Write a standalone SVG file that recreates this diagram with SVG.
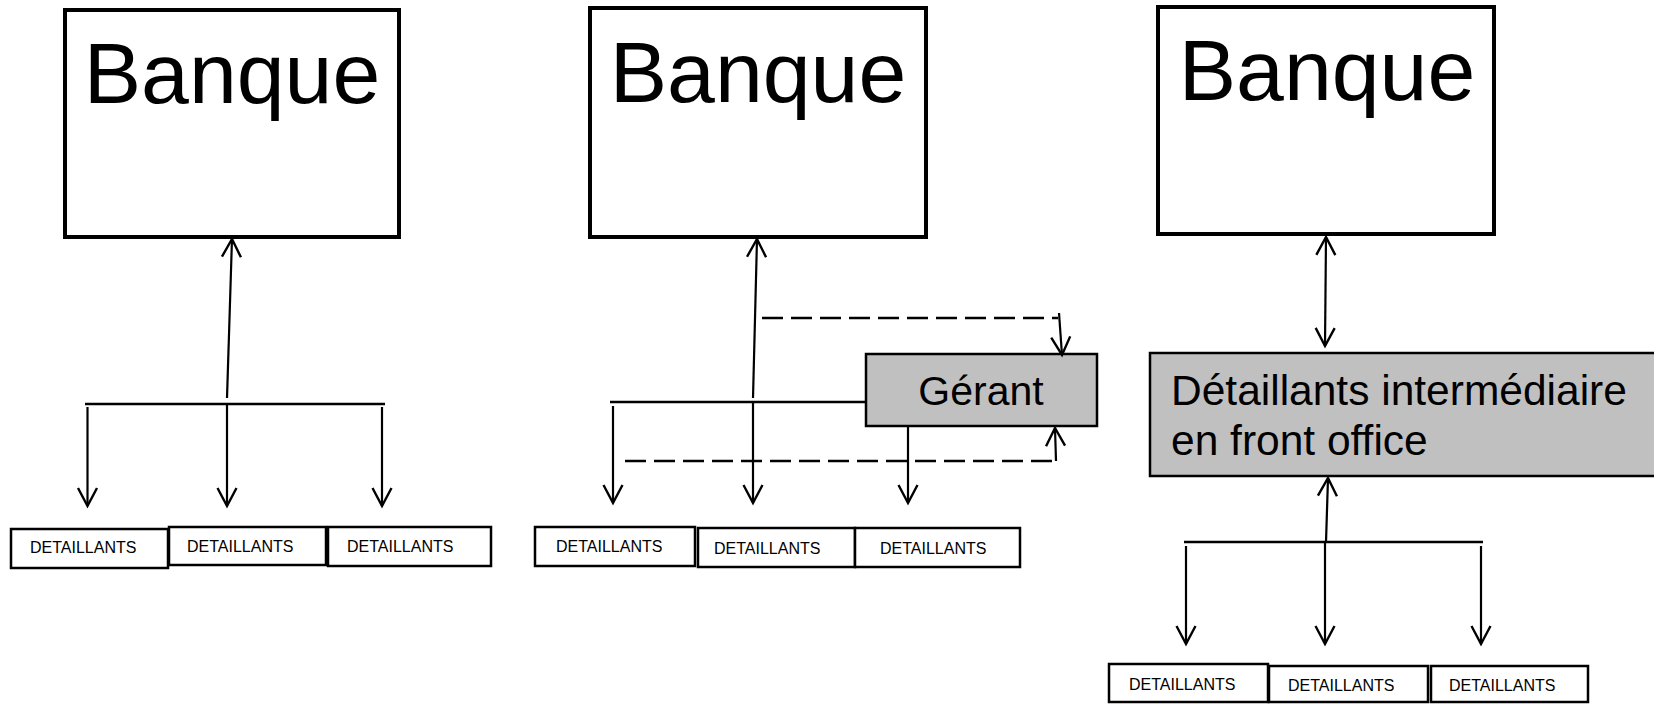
<svg xmlns="http://www.w3.org/2000/svg" width="1654" height="704" viewBox="0 0 1654 704">
<style>
.bank{fill:#fff;stroke:#000;stroke-width:4}
.det{fill:#fff;stroke:#000;stroke-width:2.5}
.grey{fill:#c0c0c0;stroke:#000;stroke-width:2.5}
.t{font-family:"Liberation Sans",Arial,sans-serif;fill:#000}
.big{font-size:86px;text-anchor:middle}
.mid{font-size:42.5px}
.small{font-size:16px}
.c{fill:none;stroke:#000;stroke-width:2.2}
.bar{fill:none;stroke:#000;stroke-width:2.5}
.dash{fill:none;stroke:#000;stroke-width:2.5;stroke-dasharray:21 8}
</style>
<defs>
<marker id="arr" markerUnits="userSpaceOnUse" markerWidth="26" markerHeight="26" refX="21" refY="13" orient="auto-start-reverse" viewBox="0 0 26 26">
<path d="M3,3.5 L21,13 L3,22.5" fill="none" stroke="#000" stroke-width="2.4"/>
</marker>
</defs>
<rect width="1654" height="704" fill="#fff"/>

<!-- Panel 1 -->
<g id="bank1"><rect class="bank" x="65" y="10" width="334" height="227"/><text class="t big" x="232" y="103">Banque</text></g>
<g id="p1det1"><rect class="det" x="11" y="529" width="157" height="39"/><text class="t small" x="30" y="553">DETAILLANTS</text></g>
<g id="p1det2"><rect class="det" x="169" y="527" width="157" height="38"/><text class="t small" x="187" y="552">DETAILLANTS</text></g>
<g id="p1det3"><rect class="det" x="328" y="527" width="163" height="39"/><text class="t small" x="347" y="552">DETAILLANTS</text></g>

<!-- Panel 2 -->
<g id="bank2"><rect class="bank" x="590" y="8" width="336" height="229"/><text class="t big" x="758" y="102">Banque</text></g>
<g id="gerant"><rect class="grey" x="866" y="354" width="231" height="72"/><text class="t" font-size="41" text-anchor="middle" x="981" y="405">Gérant</text></g>
<g id="p2det1"><rect class="det" x="535" y="527" width="160" height="39"/><text class="t small" x="556" y="552">DETAILLANTS</text></g>
<g id="p2det2"><rect class="det" x="698" y="528" width="157" height="39"/><text class="t small" x="714" y="554">DETAILLANTS</text></g>
<g id="p2det3"><rect class="det" x="855" y="528" width="165" height="39"/><text class="t small" x="880" y="554">DETAILLANTS</text></g>

<!-- Panel 3 -->
<g id="bank3"><rect class="bank" x="1158" y="7" width="336" height="227"/><text class="t big" x="1327" y="100">Banque</text></g>
<g id="frontoffice"><rect class="grey" x="1150" y="353" width="506" height="123"/><text class="t mid" x="1171" y="405">Détaillants intermédiaire</text><text class="t mid" x="1171" y="455">en front office</text></g>
<g id="p3det1"><rect class="det" x="1109" y="664" width="159" height="38"/><text class="t small" x="1129" y="690">DETAILLANTS</text></g>
<g id="p3det2"><rect class="det" x="1269" y="666" width="159" height="36"/><text class="t small" x="1288" y="691">DETAILLANTS</text></g>
<g id="p3det3"><rect class="det" x="1431" y="666" width="157" height="36"/><text class="t small" x="1449" y="691">DETAILLANTS</text></g>

<g id="connectors">
<!-- panel 1 -->
<line class="c" x1="227" y1="398" x2="232" y2="239" marker-end="url(#arr)"/>
<line class="bar" x1="85" y1="404" x2="385" y2="404"/>
<line class="c" x1="87.5" y1="407" x2="87.5" y2="506" marker-end="url(#arr)"/>
<line class="c" x1="227" y1="404" x2="227" y2="506" marker-end="url(#arr)"/>
<line class="c" x1="382" y1="407" x2="382" y2="506" marker-end="url(#arr)"/>
<!-- panel 2 -->
<line class="c" x1="753" y1="398" x2="757" y2="239" marker-end="url(#arr)"/>
<line class="bar" x1="610" y1="402" x2="866" y2="402"/>
<line class="c" x1="613" y1="406" x2="613" y2="503" marker-end="url(#arr)"/>
<line class="c" x1="753" y1="402" x2="753" y2="503" marker-end="url(#arr)"/>
<line class="c" x1="908" y1="426" x2="908" y2="503" marker-end="url(#arr)"/>
<line class="dash" x1="762" y1="318" x2="1058" y2="318"/>
<line class="c" x1="1059" y1="313" x2="1062" y2="355" marker-end="url(#arr)"/>
<line class="dash" x1="625" y1="461" x2="1056" y2="461"/>
<line class="c" x1="1056" y1="461" x2="1055" y2="428" marker-end="url(#arr)"/>
<!-- panel 3 -->
<line class="c" x1="1326" y1="237" x2="1325" y2="346" marker-start="url(#arr)" marker-end="url(#arr)"/>
<line class="c" x1="1326" y1="542" x2="1328" y2="478" marker-end="url(#arr)"/>
<line class="bar" x1="1184" y1="542" x2="1483" y2="542"/>
<line class="c" x1="1186" y1="546" x2="1186" y2="644" marker-end="url(#arr)"/>
<line class="c" x1="1325" y1="542" x2="1325" y2="644" marker-end="url(#arr)"/>
<line class="c" x1="1481" y1="546" x2="1481" y2="644" marker-end="url(#arr)"/>
</g>
</svg>
